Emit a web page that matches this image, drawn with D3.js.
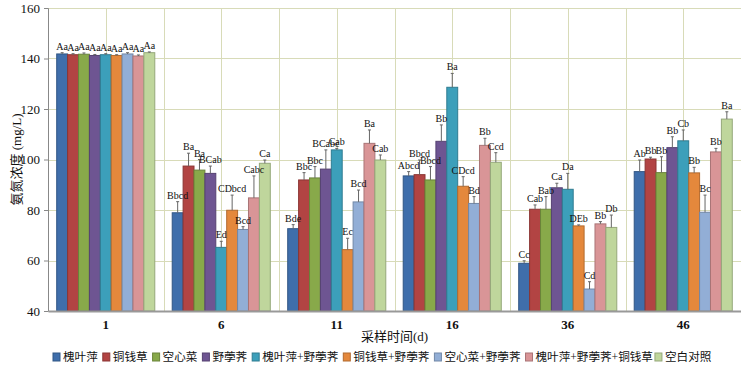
<!DOCTYPE html>
<html>
<head>
<meta charset="utf-8">
<script src="https://cdn.jsdelivr.net/npm/d3@7"></script>
<style>
  body { margin: 0; background: #fff; }
  svg { display: block; }
</style>
</head>
<body>
<div id="chart"></div>
<script>
const categories = ["1", "6", "11", "16", "36", "46"];
const seriesNames = ["槐叶萍", "铜钱草", "空心菜", "野荸荠", "槐叶萍+野荸荠", "铜钱草+野荸荠", "空心菜+野荸荠", "槐叶萍+野荸荠+铜钱草", "空白对照"];
const colors = ["#3f6eab", "#b24443", "#88a94a", "#6e5592", "#3c9fba", "#e4883c", "#92aed6", "#d99597", "#bfd69c"];

// mean values per series, one per sampling time
const vHuaiye   = [141.8, 78.9, 72.6, 93.5, 58.9, 95.2];
const vTongqian = [141.5, 97.4, 91.9, 94.0, 80.3, 100.2];
const vKongxin  = [141.7, 95.8, 92.7, 91.9, 80.3, 94.8];
const vYebiqi   = [141.2, 94.5, 96.2, 107.2, 88.8, 104.7];
const vHY       = [141.5, 65.2, 103.8, 128.6, 88.2, 107.4];
const vTY       = [141.2, 79.9, 64.3, 89.4, 73.7, 94.7];
const vKY       = [141.8, 72.3, 83.2, 82.6, 48.7, 79.1];
const vHYT      = [141.0, 84.8, 106.4, 105.6, 74.5, 103.0];
const vBlank    = [142.3, 98.5, 99.8, 98.9, 73.1, 116.0];

// error bar (upper) sizes
const eHuaiye   = [0.5, 4.4, 1.6, 1.7, 1.0, 4.6];
const eTongqian = [0.4, 5.1, 2.9, 5.8, 1.7, 0.7];
const eKongxin  = [0.5, 4.2, 4.5, 5.3, 5.0, 6.3];
const eYebiqi   = [0.4, 2.9, 7.6, 6.5, 1.8, 4.3];
const eHY       = [0.4, 2.4, 0.6, 5.5, 6.3, 4.3];
const eTY       = [0.3, 6.0, 4.5, 3.8, 0.4, 2.2];
const eKY       = [0.5, 1.1, 4.7, 2.7, 2.9, 6.8];
const eHYT      = [0.4, 8.7, 5.3, 2.8, 0.9, 1.4];
const eBlank    = [0.3, 1.3, 2.0, 3.8, 4.9, 2.9];

// significance letters
const lHuaiye   = ["Aa", "Bbcd", "Bde", "Abcd", "Cc", "Ab"];
const lTongqian = ["Aa", "Ba", "Bbc", "Bbcd", "Cab", "Bb"];
const lKongxin  = ["Aa", "Ba", "Bbc", "Bbcd", "Bab", "Bb"];
const lYebiqi   = ["Aa", "BCab", "BCabc", "Bb", "Ca", "Bb"];
const lHY       = ["Aa", "Ed", "Cab", "Ba", "Da", "Cb"];
const lTY       = ["Aa", "CDbcd", "Ec", "CDcd", "DEb", "Bb"];
const lKY       = ["Aa", "Bcd", "Bcd", "Bd", "Cd", "Bc"];
const lHYT      = ["Aa", "Cabc", "Ba", "Bb", "Bb", "Bb"];
const lBlank    = ["Aa", "Ca", "Cab", "Ccd", "Db", "Ba"];

const yTicks = [40, 60, 80, 100, 120, 140, 160];

const values = [vHuaiye, vTongqian, vKongxin, vYebiqi, vHY, vTY, vKY, vHYT, vBlank];
const errors = [eHuaiye, eTongqian, eKongxin, eYebiqi, eHY, eTY, eKY, eHYT, eBlank];
const letters = [lHuaiye, lTongqian, lKongxin, lYebiqi, lHY, lTY, lKY, lHYT, lBlank];

const W = 741, H = 368;
const margin = { top: 8, right: 0, bottom: 57, left: 48 };
const serif = "'Liberation Serif', 'Times New Roman', 'Noto Sans CJK SC', serif";
const cjk = "'Liberation Serif', 'Noto Sans CJK SC', serif";

const svg = d3.select("#chart").append("svg")
  .attr("width", W)
  .attr("height", H);

const x0 = d3.scaleBand()
  .domain(categories)
  .range([margin.left, W - margin.right])
  .padding(0);

const x1 = d3.scaleBand()
  .domain(d3.range(seriesNames.length))
  .range([0, x0.bandwidth()])
  .paddingInner(0)
  .paddingOuter(0.8);

const y = d3.scaleLinear()
  .domain([40, 160])
  .range([H - margin.bottom, margin.top]);

// Grid
const grid = svg.append("g").attr("stroke", "#d8dbb8").attr("stroke-width", 1);
yTicks.filter(t => t > 40).forEach(t => {
  grid.append("line")
    .attr("x1", margin.left).attr("x2", W)
    .attr("y1", Math.round(y(t)) + 0.5).attr("y2", Math.round(y(t)) + 0.5);
});
categories.forEach(c => {
  [x0(c), x0(c) + x0.bandwidth() / 2].forEach(xx => {
    grid.append("line")
      .attr("x1", Math.round(xx) + 0.5).attr("x2", Math.round(xx) + 0.5)
      .attr("y1", margin.top).attr("y2", y(40));
  });
});

// flatten to one record per bar
const bars = [];
categories.forEach((c, ci) => {
  seriesNames.forEach((s, si) => {
    bars.push({ c, si, v: values[si][ci], e: errors[si][ci], l: letters[si][ci] });
  });
});
const cx = d => x0(d.c) + x1(d.si) + x1.bandwidth() / 2;

// Bars
svg.append("g").selectAll("rect")
  .data(bars)
  .join("rect")
  .attr("x", d => x0(d.c) + x1(d.si))
  .attr("y", d => y(d.v))
  .attr("width", x1.bandwidth())
  .attr("height", d => y(40) - y(d.v))
  .attr("fill", d => colors[d.si])
  .attr("stroke", d => d3.color(colors[d.si]).darker(0.7))
  .attr("stroke-width", 1);

// Error bars
const err = svg.append("g").attr("stroke", "#666");
err.selectAll("line.stem")
  .data(bars)
  .join("line")
  .attr("class", "stem")
  .attr("x1", cx).attr("x2", cx)
  .attr("y1", d => y(d.v))
  .attr("y2", d => y(d.v + d.e));
err.selectAll("line.cap")
  .data(bars)
  .join("line")
  .attr("class", "cap")
  .attr("x1", d => cx(d) - 1.5)
  .attr("x2", d => cx(d) + 1.5)
  .attr("y1", d => y(d.v + d.e))
  .attr("y2", d => y(d.v + d.e));

// Letters, on top of all bars
svg.append("g").selectAll("text")
  .data(bars)
  .join("text")
  .attr("x", cx)
  .attr("y", d => y(d.v + d.e) - 3)
  .attr("text-anchor", "middle")
  .style("font-family", serif)
  .style("font-size", "10px")
  .attr("fill", "#111")
  .text(d => d.l);

// Y axis
const yAxis = svg.append("g")
  .attr("transform", `translate(${margin.left},0)`)
  .call(d3.axisLeft(y).tickValues(yTicks).tickSize(4).tickPadding(4));
yAxis.select(".domain").attr("stroke", "#888");
yAxis.selectAll(".tick line").attr("stroke", "#888");
yAxis.selectAll("text")
  .style("font-family", serif)
  .style("font-size", "13px")
  .attr("fill", "#111");

// X axis
const xAxis = svg.append("g")
  .attr("transform", `translate(0,${y(40)})`)
  .call(d3.axisBottom(x0).tickSize(0).tickPadding(9));
xAxis.select(".domain").attr("stroke", "#999").attr("stroke-width", 2);
xAxis.selectAll("text")
  .style("font-family", serif)
  .style("font-size", "13px")
  .style("font-weight", "bold")
  .attr("fill", "#111");

// Axis titles
svg.append("text")
  .attr("x", (margin.left + W) / 2)
  .attr("y", 341)
  .attr("text-anchor", "middle")
  .style("font-family", cjk)
  .style("font-size", "13px")
  .attr("fill", "#111")
  .text("采样时间(d)");

svg.append("text")
  .attr("transform", `translate(16,${(margin.top + y(40)) / 2}) rotate(-90)`)
  .attr("text-anchor", "middle")
  .attr("dy", "0.35em")
  .style("font-family", cjk)
  .style("font-size", "13px")
  .attr("fill", "#111")
  .text("氨氮浓度 (mg/L)");

// Legend
const legend = svg.append("g").attr("transform", "translate(53,357)");
let lx = 0;
seriesNames.forEach((name, i) => {
  const item = legend.append("g").attr("transform", `translate(${lx},0)`);
  item.append("rect")
    .attr("x", 0).attr("y", -4)
    .attr("width", 7).attr("height", 8)
    .attr("fill", colors[i])
    .attr("stroke", d3.color(colors[i]).darker(0.7));
  const t = item.append("text")
    .attr("x", 10)
    .attr("dy", "0.35em")
    .style("font-family", cjk)
    .style("font-size", "11.6px")
    .attr("fill", "#111")
    .text(name);
  lx += 10 + t.node().getComputedTextLength() + (i === 7 ? 2 : 5);
});
</script>
</body>
</html>
